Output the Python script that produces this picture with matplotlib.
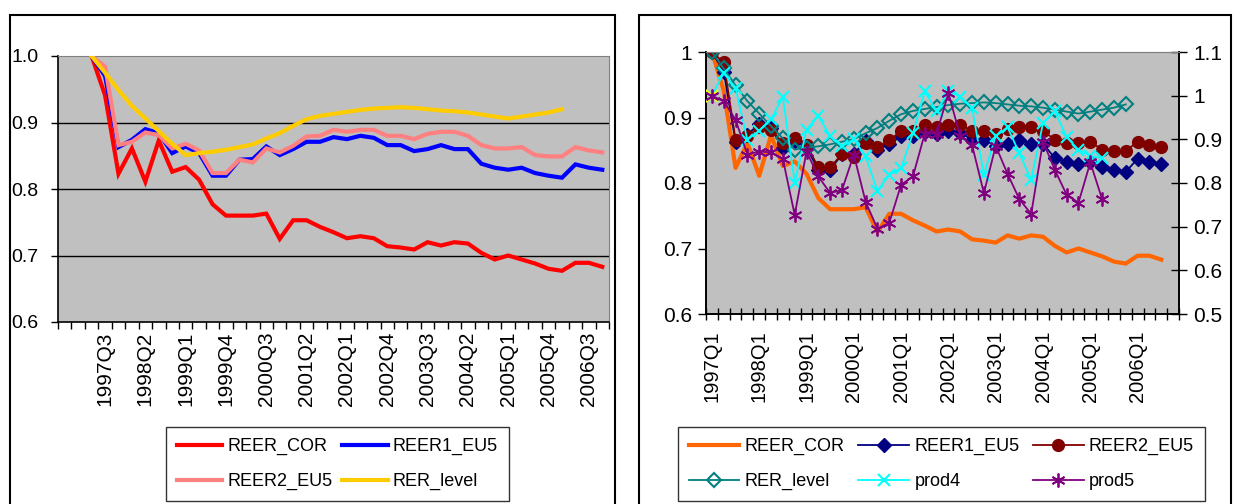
import numpy as np
import matplotlib
matplotlib.use("Agg")
import matplotlib.pyplot as plt
from matplotlib.patches import Rectangle

plt.rcParams['font.family'] = ['Liberation Sans', 'DejaVu Sans']

# quarters of the right chart (1997Q1 .. 2006Q4)
quarters = [f"{y}Q{q}" for y in range(1997, 2007) for q in range(1, 5)]
# left chart categories (1996Q4 .. 2006Q4), data starts on the third one
left_cats = ["1996Q4"] + quarters
left_offset = 2

# series, from 1997Q1
reer_cor = [1.0, 0.941, 0.823, 0.861, 0.811, 0.873, 0.826, 0.833, 0.814, 0.777,
            0.760, 0.760, 0.760, 0.763, 0.725, 0.753, 0.753, 0.743, 0.735, 0.726,
            0.729, 0.726, 0.714, 0.712, 0.709, 0.720, 0.715, 0.720, 0.718, 0.704,
            0.694, 0.700, 0.694, 0.688, 0.680, 0.677, 0.689, 0.689, 0.683]
reer1_eu5 = [1.0, 0.970, 0.863, 0.874, 0.890, 0.884, 0.854, 0.864, 0.854, 0.820,
             0.820, 0.844, 0.845, 0.864, 0.851, 0.860, 0.871, 0.871, 0.878, 0.875,
             0.880, 0.877, 0.866, 0.866, 0.857, 0.860, 0.866, 0.860, 0.860, 0.838,
             0.832, 0.829, 0.832, 0.824, 0.820, 0.817, 0.837, 0.832, 0.829]
reer2_eu5 = [1.0, 0.984, 0.866, 0.871, 0.885, 0.881, 0.861, 0.868, 0.858, 0.824,
             0.824, 0.844, 0.840, 0.861, 0.855, 0.865, 0.879, 0.880, 0.889, 0.886,
             0.889, 0.889, 0.880, 0.880, 0.875, 0.883, 0.886, 0.886, 0.880, 0.866,
             0.861, 0.861, 0.863, 0.851, 0.849, 0.849, 0.863, 0.858, 0.855]
rer_level = [1.0, 0.975, 0.949, 0.925, 0.906, 0.887, 0.868, 0.851, 0.854, 0.856,
             0.859, 0.863, 0.867, 0.876, 0.884, 0.895, 0.905, 0.910, 0.913, 0.916,
             0.919, 0.921, 0.922, 0.923, 0.922, 0.920, 0.918, 0.917, 0.915, 0.912,
             0.909, 0.906, 0.909, 0.912, 0.915, 0.920]
prod4 = [1.0, 1.052, 1.017, 0.899, 0.920, 0.946, 0.997, 0.801, 0.922, 0.954,
         0.907, 0.884, 0.900, 0.861, 0.782, 0.819, 0.834, 0.914, 1.010, 0.964,
         1.010, 0.998, 0.972, 0.819, 0.907, 0.928, 0.868, 0.807, 0.937, 0.964,
         0.905, 0.876, 0.862, 0.857]
prod5 = [1.0, 0.987, 0.945, 0.865, 0.872, 0.870, 0.855, 0.727, 0.872, 0.815,
         0.777, 0.784, 0.865, 0.757, 0.695, 0.709, 0.796, 0.815, 0.913, 0.913,
         1.006, 0.907, 0.887, 0.777, 0.885, 0.821, 0.763, 0.729, 0.895, 0.830,
         0.773, 0.755, 0.847, 0.763]

W, H = 1233, 504
fig = plt.figure(figsize=(W / 100, H / 100), dpi=100)

# outer frames of the two panels
fig.patches.append(Rectangle((10 / W, -0.1), 605 / W, (H - 15) / H + 0.1,
                             transform=fig.transFigure, fill=False, ec='black', lw=1.5))
fig.patches.append(Rectangle((639 / W, -0.1), (1231 - 639) / W, (H - 15) / H + 0.1,
                             transform=fig.transFigure, fill=False, ec='black', lw=1.5))

gray = '#C0C0C0'

# ---------- left chart ----------
ax1 = fig.add_axes([58 / W, 1 - 322 / H, 551 / W, 266 / H])
ax1.set_facecolor(gray)
nl = len(left_cats)
ax1.set_xlim(0, nl)
ax1.set_ylim(0.6, 1.0)
for y in [0.7, 0.8, 0.9]:
    ax1.axhline(y, color='black', lw=1, zorder=1)

left_series = [('REER_COR', reer_cor, '#FF0000'),
               ('REER1_EU5', reer1_eu5, '#0000FF'),
               ('REER2_EU5', reer2_eu5, '#FF8080'),
               ('RER_level', rer_level, '#FFCC00')]
lh = {}
for name, vals, col in left_series:
    x = np.arange(len(vals)) + left_offset + 0.5
    lh[name], = ax1.plot(x, vals, color=col, lw=3, solid_joinstyle='miter', zorder=3)

ax1.set_xticks(np.arange(0, nl + 1))
ax1.set_xticklabels([])
ax1.tick_params(axis='x', which='major', direction='out', length=5, width=1)
lab_idx = list(range(3, nl, 3))
ax1.set_xticks(np.array(lab_idx) + 0.5, minor=True)
ax1.set_xticklabels([left_cats[i] for i in lab_idx], minor=True, rotation=90, fontsize=15)
ax1.tick_params(axis='x', which='minor', length=0, pad=7)
ax1.set_yticks([0.6, 0.7, 0.8, 0.9, 1.0])
ax1.set_yticklabels([f"{v:.1f}" for v in [0.6, 0.7, 0.8, 0.9, 1.0]], fontsize=14)
ax1.tick_params(axis='y', direction='out', length=5, width=1, pad=9)
ax1.spines['top'].set_color('#808080')
ax1.spines['right'].set_color('#808080')
ax1.spines['left'].set_linewidth(1.2)
ax1.spines['bottom'].set_linewidth(1.2)

fig.legend([lh['REER_COR'], lh['REER2_EU5'], lh['REER1_EU5'], lh['RER_level']],
           ['REER_COR', 'REER2_EU5', 'REER1_EU5', 'RER_level'],
           loc='upper left', bbox_to_anchor=(166 / W, 1 - 427 / H), ncol=2,
           fontsize=13, frameon=True, fancybox=False, edgecolor='black',
           borderaxespad=0, handlelength=2.5, handletextpad=0.3,
           columnspacing=0.55, labelspacing=1.0, borderpad=0.6).get_frame().set_linewidth(1)

# ---------- right chart ----------
ax2 = fig.add_axes([706 / W, 1 - 314 / H, 473 / W, 262 / H])
ax2.set_facecolor(gray)
nr = len(quarters)
ax2.set_xlim(0, nr)
ax2.set_ylim(0.6, 1.0)
ax2r = ax2.twinx()
ax2r.set_ylim(0.5, 1.1)

xr = lambda vals: np.arange(len(vals)) + 0.5
h_cor, = ax2.plot(xr(reer_cor), reer_cor, color='#FF6600', lw=3, zorder=2)
h_r1, = ax2.plot(xr(reer1_eu5), reer1_eu5, color='#000080', lw=1.3, marker='D',
                 ms=7.5, zorder=3)
h_r2, = ax2.plot(xr(reer2_eu5), reer2_eu5, color='#800000', lw=1.3, marker='o',
                 ms=8.5, zorder=4)
h_rl, = ax2.plot(xr(rer_level), rer_level, color='#008080', lw=1.3, marker='D',
                 ms=7, mfc='none', mew=1.5, zorder=5)
h_p4, = ax2r.plot(xr(prod4), prod4, color='#00FFFF', lw=1.3, marker='x',
                  ms=9, mew=1.5, zorder=3)
ax2r.plot(xr(prod4)[:1], prod4[:1], ls='none', marker='x', ms=9, mew=1.5,
          color='#FFFF00', zorder=3)
h_p5, = ax2r.plot(xr(prod5), prod5, color='#800080', lw=1.3, marker=(6, 2, 0),
                  ms=10, mew=1.3, zorder=4)

ax2.set_xticks(np.arange(0, nr + 1))
ax2.set_xticklabels([])
ax2.tick_params(axis='x', which='major', direction='inout', length=8, width=1)
lab_r = list(range(0, nr, 4))
ax2.set_xticks(np.array(lab_r) + 0.5, minor=True)
ax2.set_xticklabels([quarters[i] for i in lab_r], minor=True, rotation=90, fontsize=14.5)
ax2.tick_params(axis='x', which='minor', length=0, pad=12)

lt = [0.6, 0.7, 0.8, 0.9, 1.0]
ax2.set_yticks(lt)
ax2.set_yticklabels([f"{v:g}" for v in lt], fontsize=15)
ax2.tick_params(axis='y', direction='out', length=6, width=1, pad=4)
rt = [0.5, 0.6, 0.7, 0.8, 0.9, 1.0, 1.1]
ax2r.set_yticks(rt)
ax2r.set_yticklabels([f"{v:g}" for v in rt], fontsize=15)
ax2r.tick_params(axis='y', direction='inout', length=11, width=1, pad=5)

for a in (ax2, ax2r):
    a.spines['top'].set_color('#808080')
    a.spines['left'].set_linewidth(1.2)
    a.spines['bottom'].set_linewidth(1.2)
    a.spines['right'].set_linewidth(1.2)

fig.legend([h_cor, h_rl, h_r1, h_p4, h_r2, h_p5],
           ['REER_COR', 'RER_level', 'REER1_EU5', 'prod4', 'REER2_EU5', 'prod5'],
           loc='upper left', bbox_to_anchor=(678 / W, 1 - 427 / H), ncol=3,
           fontsize=13, frameon=True, fancybox=False, edgecolor='black',
           borderaxespad=0, handlelength=2.8, handletextpad=0.3,
           columnspacing=0.75, labelspacing=1.0, borderpad=0.6).get_frame().set_linewidth(1)

fig.savefig('out.png', dpi=100)
